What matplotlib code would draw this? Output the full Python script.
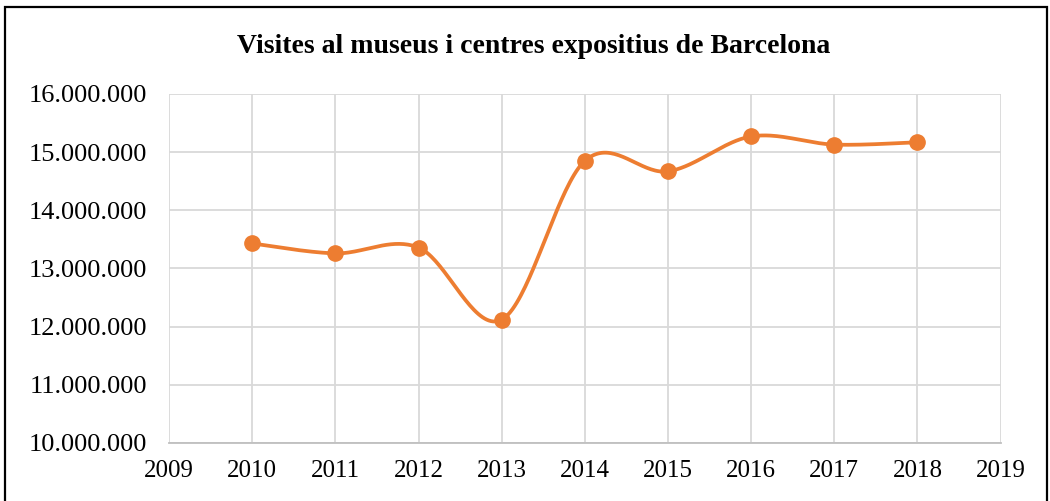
import matplotlib.pyplot as plt
import matplotlib.ticker as ticker
import numpy as np
from matplotlib.patches import Rectangle

years = [2010, 2011, 2012, 2013, 2014, 2015, 2016, 2017, 2018]
visits = [13430000, 13260000, 13360000, 12120000, 14850000, 14670000, 15270000, 15130000, 15170000]
y_ticks = [10000000, 11000000, 12000000, 13000000, 14000000, 15000000, 16000000]
x_ticks = list(range(2009, 2020))
title = "Visites al museus i centres expositius de Barcelona"

plt.rcParams['font.family'] = ['Liberation Serif', 'DejaVu Serif']


def smooth(xs, ys, n=40):
    # bezier spline like the office "smoothed line"
    p = np.column_stack([xs, ys]).astype(float)
    out = [p[0]]
    for i in range(len(p) - 1):
        p0 = p[i - 1] if i > 0 else p[i]
        p1, p2 = p[i], p[i + 1]
        p3 = p[i + 2] if i + 2 < len(p) else p[i + 1]
        c1 = p1 + (p2 - p0) / 6
        c2 = p2 - (p3 - p1) / 6
        t = np.linspace(0, 1, n)[1:, None]
        seg = (1 - t) ** 3 * p1 + 3 * (1 - t) ** 2 * t * c1 + 3 * (1 - t) * t ** 2 * c2 + t ** 3 * p2
        out.extend(seg)
    out = np.array(out)
    return out[:, 0], out[:, 1]


fig = plt.figure(figsize=(10.5, 5.01), dpi=100)
ax = fig.add_axes([0.161, 0.1158, 0.792, 0.6966])

sx, sy = smooth(years, visits)
ax.plot(sx, sy, color="#ED7D31", lw=2.7, zorder=3)
ax.plot(years, visits, "o", color="#ED7D31", ms=11, zorder=4)

ax.set_xlim(2009, 2019)
ax.set_ylim(10000000, 16000000)
ax.set_xticks(x_ticks)
ax.set_yticks(y_ticks)
ax.yaxis.set_major_formatter(ticker.FuncFormatter(lambda v, p: f"{int(v):,}".replace(",", ".")))
ax.grid(True, color="#D9D9D9", lw=1.3)
ax.set_axisbelow(True)
for s in ["top", "right", "left"]:
    ax.spines[s].set_visible(False)
ax.spines["bottom"].set_color("#BFBFBF")
ax.spines["bottom"].set_linewidth(1.3)
ax.tick_params(length=0)
ax.tick_params(axis="y", pad=16, labelsize=19)
ax.tick_params(axis="x", pad=12, labelsize=18)

fig.text(0.508, 0.908, title, ha="center", va="center", fontsize=20, fontweight="bold")

fig.patches.append(Rectangle((5 / 1050, -0.05), 1042 / 1050, 1 - 7 / 501 + 0.05,
                             transform=fig.transFigure, fill=False, ec="black", lw=1.6))

fig.savefig("out.png", dpi=100)
